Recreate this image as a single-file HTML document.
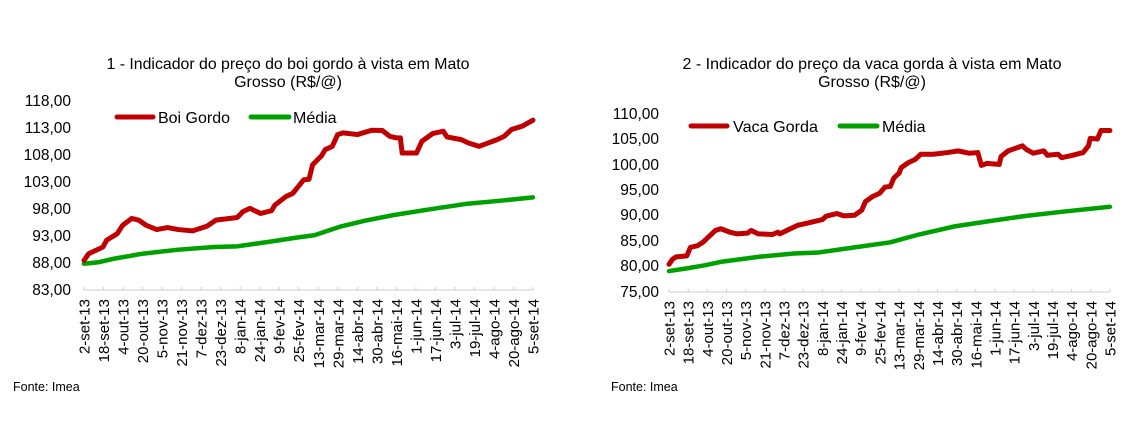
<!DOCTYPE html>
<html><head><meta charset="utf-8"><style>
html,body{margin:0;padding:0;background:#fff;}
svg{display:block;font-family:"Liberation Sans",Arial,sans-serif;}
</style></head><body>
<svg width="1147" height="430" viewBox="0 0 1147 430">
<rect width="1147" height="430" fill="#fff"/>
<!-- Chart 1 -->
<g font-size="16" fill="#000" text-anchor="middle">
<text x="288" y="69" textLength="363" lengthAdjust="spacingAndGlyphs">1 - Indicador do preço do boi gordo à vista em Mato</text>
<text x="288" y="87">Grosso (R$/@)</text>
</g>
<g font-size="15.5" text-anchor="end">
<text x="71" y="106">118,00</text><text x="71" y="133">113,00</text><text x="71" y="160">108,00</text><text x="71" y="187">103,00</text><text x="71" y="214">98,00</text><text x="71" y="241">93,00</text><text x="71" y="268">88,00</text><text x="71" y="295">83,00</text>
</g>
<line x1="84" y1="290" x2="533" y2="290" stroke="#ccc" stroke-width="1"/>
<g id="t1" stroke="#ccc"></g>
<line x1="117" y1="117" x2="153" y2="117" stroke="#c00000" stroke-width="5" stroke-linecap="round"/>
<text x="158" y="123" font-size="16" textLength="72" lengthAdjust="spacingAndGlyphs">Boi Gordo</text>
<line x1="251" y1="117" x2="289" y2="117" stroke="#00a000" stroke-width="5" stroke-linecap="round"/>
<text x="293" y="123" font-size="16">Média</text>
<g transform="matrix(0.3583,0,0,0.3356,-0.92,49)" fill="none" stroke-linejoin="round" stroke-linecap="round">
<polyline vector-effect="non-scaling-stroke" stroke="#00a000" stroke-width="4.5" points="237,640 280,635 320,625 400,610 500,598 600,590 665,588 750,575 830,562 880,555 950,530 1020,512 1100,495 1200,478 1300,462 1400,452 1490,442"/>
<polyline vector-effect="non-scaling-stroke" stroke="#c00000" stroke-width="5" points="237,630 250,610 290,590 300,570 330,550 345,525 370,505 390,510 410,525 440,538 470,532 500,538 540,542 580,528 605,510 665,502 680,485 700,475 730,490 760,482 770,465 800,440 820,430 835,410 850,390 865,388 875,345 900,318 910,300 930,290 945,255 960,250 1000,255 1040,242 1070,243 1090,260 1110,265 1120,265 1125,310 1165,310 1180,275 1210,252 1240,245 1250,262 1290,270 1310,280 1340,290 1370,278 1390,270 1410,260 1430,240 1460,230 1490,212"/>
</g>
<text x="13" y="391" font-size="12.5">Fonte: Imea</text>

<!-- Chart 2 -->
<g font-size="16" fill="#000" text-anchor="middle">
<text x="872" y="69" textLength="379" lengthAdjust="spacingAndGlyphs">2 - Indicador do preço da vaca gorda à vista em Mato</text>
<text x="872" y="87">Grosso (R$/@)</text>
</g>
<g font-size="15.5" text-anchor="end">
<text x="659" y="119">110,00</text><text x="659" y="144">105,00</text><text x="659" y="170">100,00</text><text x="659" y="195">95,00</text><text x="659" y="220">90,00</text><text x="659" y="246">85,00</text><text x="659" y="271">80,00</text><text x="659" y="297">75,00</text>
</g>
<line x1="669" y1="292" x2="1110" y2="292" stroke="#ccc" stroke-width="1"/>
<g id="t2" stroke="#ccc"></g>
<line x1="691" y1="126" x2="727" y2="126" stroke="#c00000" stroke-width="5" stroke-linecap="round"/>
<text x="733" y="132" font-size="16" textLength="85" lengthAdjust="spacingAndGlyphs">Vaca Gorda</text>
<line x1="840" y1="126" x2="877" y2="126" stroke="#00a000" stroke-width="5" stroke-linecap="round"/>
<text x="882" y="132" font-size="16">Média</text>
<g transform="matrix(0.357,0,0,0.3386,579.75,47.6)" fill="none" stroke-linejoin="round" stroke-linecap="round">
<polyline vector-effect="non-scaling-stroke" stroke="#00a000" stroke-width="4.5" points="250,660 300,652 350,643 400,632 500,618 600,608 670,605 750,593 870,575 950,552 1050,528 1150,512 1250,497 1350,485 1485,470"/>
<polyline vector-effect="non-scaling-stroke" stroke="#c00000" stroke-width="5" points="250,640 260,625 270,618 300,615 310,590 330,585 345,575 360,560 380,540 395,535 420,545 440,550 470,548 480,540 500,550 540,552 555,545 560,550 580,540 610,525 640,518 680,508 690,498 720,490 740,497 770,495 790,480 800,455 820,440 840,430 855,412 870,410 880,385 895,370 900,355 920,340 940,330 955,315 990,315 1030,310 1060,305 1090,312 1115,310 1125,348 1140,342 1175,345 1180,322 1200,305 1240,290 1250,300 1270,312 1300,305 1310,318 1340,315 1350,325 1380,318 1410,310 1425,290 1430,268 1450,270 1460,245 1485,245"/>
</g>
<text x="611" y="391" font-size="12.5">Fonte: Imea</text>

<g font-size="15" text-anchor="end">
<g id="xl1"></g><g id="xl2"></g>
</g>
</svg>
<script>
var L=["2-set-13","18-set-13","4-out-13","20-out-13","5-nov-13","21-nov-13","7-dez-13","23-dez-13","8-jan-14","24-jan-14","9-fev-14","25-fev-14","13-mar-14","29-mar-14","14-abr-14","30-abr-14","16-mai-14","1-jun-14","17-jun-14","3-jul-14","19-jul-14","4-ago-14","20-ago-14","5-set-14"];
var ns="http://www.w3.org/2000/svg";
function build(x0,x1,y,tg,lg){
 var s=(x1-x0)/23;
 for(var i=0;i<24;i++){
  var x=x0+i*s;
  var l=document.createElementNS(ns,"line");
  l.setAttribute("x1",x);l.setAttribute("x2",x);l.setAttribute("y1",y-3);l.setAttribute("y2",y);
  document.getElementById(tg).appendChild(l);
  var t=document.createElementNS(ns,"text");
  t.setAttribute("transform","translate("+(x+5.5)+","+(y+9)+") rotate(-90)");
  t.textContent=L[i];
  document.getElementById(lg).appendChild(t);
 }
}
build(84,533,290,"t1","xl1");
build(669,1110,292,"t2","xl2");
</script>
</body></html>
